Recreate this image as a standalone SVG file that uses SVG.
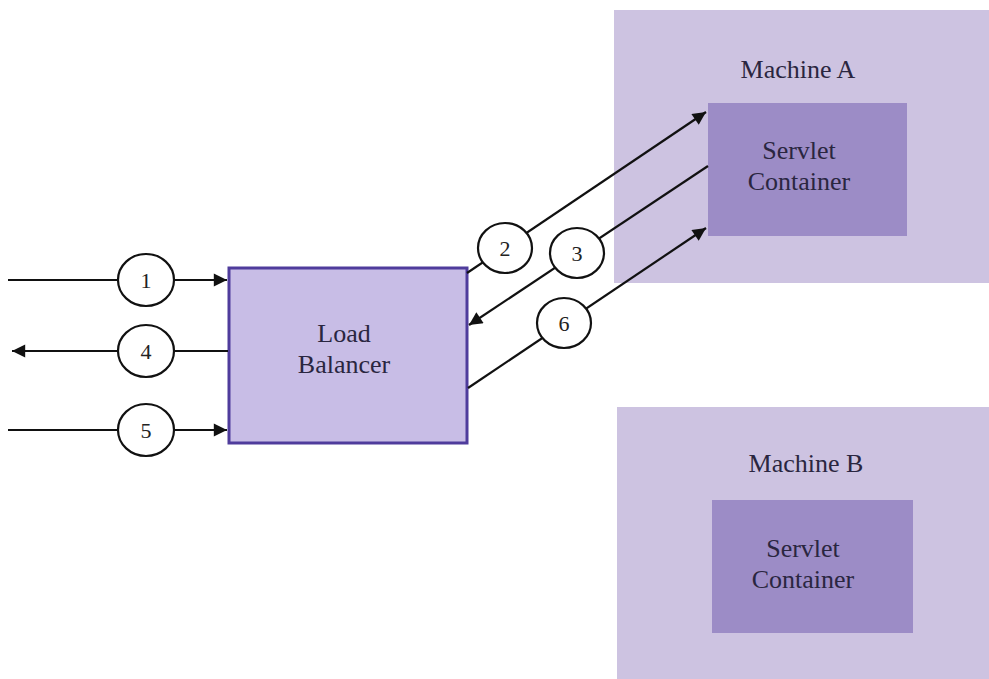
<svg xmlns="http://www.w3.org/2000/svg" width="989" height="679" viewBox="0 0 989 679">
<defs>
<style>
.machine{fill:#cdc3e1;}
.container{fill:#9c8cc6;}
.lb{fill:#c8bde6;stroke:#4f3c9c;stroke-width:3;}
.lbl{font-family:"Liberation Serif","Times New Roman",serif;font-size:26px;fill:#2a2640;text-anchor:middle;}
.num{font-family:"Liberation Serif","Times New Roman",serif;font-size:22px;fill:#222;text-anchor:middle;}
.conn{stroke:#111;stroke-width:2.2;fill:none;}
.badge{fill:#fff;stroke:#111;stroke-width:2.2;}
</style>
<marker id="ah" viewBox="0 0 10 10" refX="10" refY="5" markerWidth="8" markerHeight="6" markerUnits="strokeWidth" orient="auto">
<path d="M0,0 L10,5 L0,10 z" fill="#111"/>
</marker>
</defs>
<rect width="989" height="679" fill="#ffffff"/>
<g id="machineA">
<rect class="machine" x="614" y="10" width="375" height="273"/>
<text class="lbl" x="798" y="78">Machine A</text>
</g>
<g id="containerA">
<rect class="container" x="708" y="103" width="199" height="133"/>
<text class="lbl" x="799" y="159">Servlet</text>
<text class="lbl" x="799" y="190">Container</text>
</g>
<g id="machineB">
<rect class="machine" x="617" y="407" width="372" height="272"/>
<text class="lbl" x="806" y="472">Machine B</text>
</g>
<g id="containerB">
<rect class="container" x="712" y="500" width="201" height="133"/>
<text class="lbl" x="803" y="557">Servlet</text>
<text class="lbl" x="803" y="588">Container</text>
</g>
<g id="loadBalancer">
<rect class="lb" x="229" y="268" width="238" height="175"/>
<text class="lbl" x="344" y="342">Load</text>
<text class="lbl" x="344" y="373">Balancer</text>
</g>
<g id="connectors">
<line class="conn" x1="8" y1="280" x2="227" y2="280" marker-end="url(#ah)"/>
<line class="conn" x1="228" y1="351" x2="12" y2="351" marker-end="url(#ah)"/>
<line class="conn" x1="8" y1="430" x2="227" y2="430" marker-end="url(#ah)"/>
<line class="conn" x1="467" y1="273" x2="706" y2="112" marker-end="url(#ah)"/>
<line class="conn" x1="708" y1="166" x2="469" y2="325" marker-end="url(#ah)"/>
<line class="conn" x1="468" y1="388" x2="706" y2="228" marker-end="url(#ah)"/>
</g>
<g id="badges">
<g id="b1"><ellipse class="badge" cx="146" cy="280" rx="28" ry="26"/><text class="num" x="146" y="288">1</text></g>
<g id="b4"><ellipse class="badge" cx="146" cy="351" rx="28" ry="26"/><text class="num" x="146" y="359">4</text></g>
<g id="b5"><ellipse class="badge" cx="146" cy="430" rx="28" ry="26"/><text class="num" x="146" y="438">5</text></g>
<g id="b2"><ellipse class="badge" cx="505" cy="248" rx="27" ry="25"/><text class="num" x="505" y="256">2</text></g>
<g id="b3"><ellipse class="badge" cx="577" cy="253" rx="27" ry="25"/><text class="num" x="577" y="261">3</text></g>
<g id="b6"><ellipse class="badge" cx="564" cy="323" rx="27" ry="25"/><text class="num" x="564" y="331">6</text></g>
</g>
</svg>
